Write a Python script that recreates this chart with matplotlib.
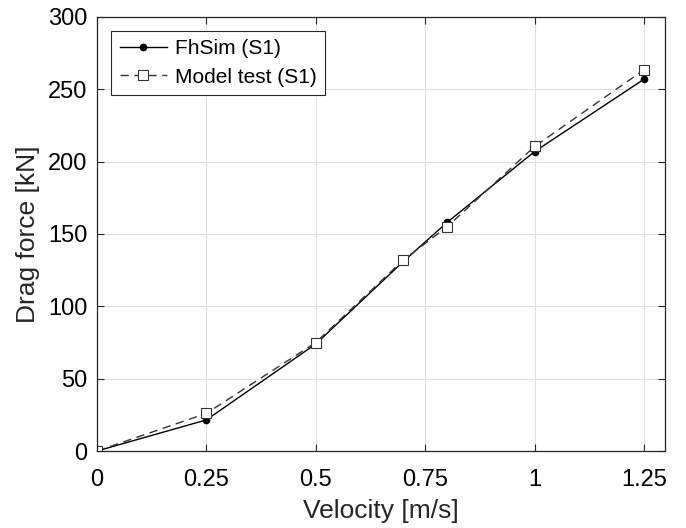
import matplotlib.pyplot as plt

# drag force vs towing velocity, simulation vs model test
vel_sim = [0, 0.25, 0.5, 0.7, 0.8, 1.0, 1.25]
drag_sim = [0, 21.5, 74, 131, 158, 207, 257]

vel_test = [0, 0.25, 0.5, 0.7, 0.8, 1.0, 1.25]
drag_test = [0, 26, 75, 132, 155, 210.5, 263.5]

xticks = [0, 0.25, 0.5, 0.75, 1, 1.25]
xtick_labels = ['0', '0.25', '0.5', '0.75', '1', '1.25']
yticks = [0, 50, 100, 150, 200, 250, 300]

plt.rcParams['font.family'] = ['Liberation Sans', 'DejaVu Sans']

fig = plt.figure(figsize=(6.86, 5.28), dpi=100)
ax = fig.add_axes([97 / 686, 77 / 528, 568 / 686, 434 / 528])

ax.plot(vel_sim, drag_sim, '-', color='black', linewidth=1.0,
        marker='o', markersize=4.5, label='FhSim (S1)')
ax.plot(vel_test, drag_test, '--', color='#333333', linewidth=1.0,
        marker='s', markersize=7.5, markerfacecolor='white',
        markeredgecolor='#333333', markeredgewidth=0.8,
        dashes=(6, 4), label='Model test (S1)')

ax.set_xlim(0, 1.298)
ax.set_ylim(0, 300)
ax.set_xticks(xticks)
ax.set_xticklabels(xtick_labels)
ax.set_yticks(yticks)
ax.grid(True, color='#e0e0e0', linewidth=0.8)
ax.set_axisbelow(True)
ax.tick_params(direction='in', top=True, right=True, labelsize=17,
               length=5, width=0.8, color='#262626')
ax.tick_params(axis='x', pad=13)
ax.tick_params(axis='y', pad=7)
for s in ax.spines.values():
    s.set_color('#262626')
    s.set_linewidth(0.9)

ax.set_xlabel('Velocity [m/s]', fontsize=19, color='#262626', labelpad=6)
ax.set_ylabel('Drag force [kN]', fontsize=19, color='#262626', labelpad=6)

leg = ax.legend(loc='upper left', fontsize=15, fancybox=False, framealpha=1,
                edgecolor='#262626', handlelength=2.3, borderpad=0.4,
                labelspacing=0.45, handletextpad=0.35, borderaxespad=0,
                bbox_to_anchor=(0.025, 0.968))
leg.get_frame().set_linewidth(0.8)

fig.savefig('out.png', dpi=100)
